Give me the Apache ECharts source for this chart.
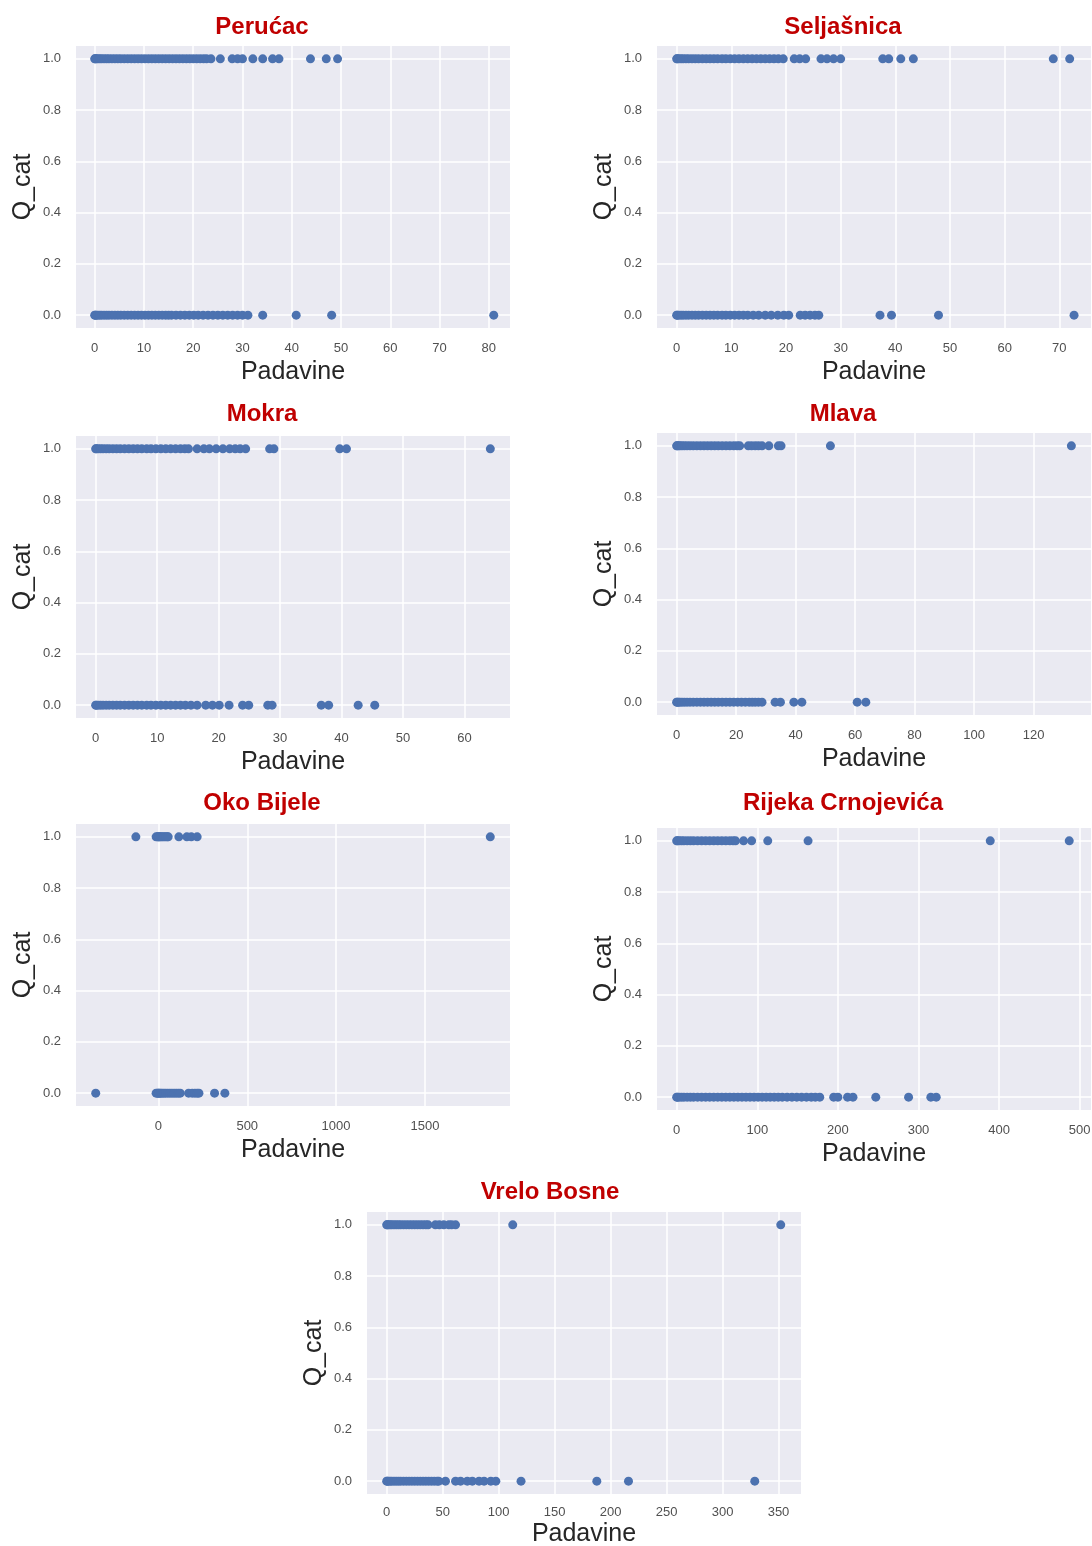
<!DOCTYPE html>
<html><head><meta charset="utf-8">
<script src="https://cdn.jsdelivr.net/npm/echarts@6/dist/echarts.min.js"></script>
<style>html,body{margin:0;padding:0;background:#fff}#c{width:1092px;height:1546px}</style>
</head><body><div id="c"></div>
<script>
// ---------- DATA (Padavine values, split by Q_cat = 1 / Q_cat = 0) ----------
const stationNames = ['Perućac', 'Seljašnica', 'Mokra', 'Mlava', 'Oko Bijele', 'Rijeka Crnojevića', 'Vrelo Bosne'];

const perucacQ1 = [0,0.1,0.3,0.6,1,1.4,1.9,2.4,2.9,3.5,4.1,4.7,5.3,6,6.7,7.4,8.1,8.8,9.5,10.2,10.9,11.6,12.3,13,13.7,14.4,15.1,15.8,16.5,17.2,17.9,18.6,19.3,20,20.7,21.4,22.1,22.7,23.6,25.5,27.9,29.0,30.0,32.1,34.1,36.1,37.4,43.8,47.0,49.3];
const perucacQ0 = [0,0.1,0.3,0.6,1,1.4,1.9,2.4,2.9,3.5,4.1,4.7,5.3,6,6.7,7.4,8.1,8.8,9.5,10.2,10.9,11.6,12.3,13,13.7,14.4,15,15.6,16.5,17.4,18.3,19.2,20.1,21,22,23,24,25,26,27,28,29,30,31.1,34.1,40.9,48.1,81.0];

const seljasnicaQ1 = [0,0.1,0.4,0.8,1.2,1.7,2.2,2.8,3.4,4,4.7,5.4,6.1,6.8,7.5,8.3,9,9.8,10.6,11.4,12.2,13,13.8,14.6,15.4,16.2,17,17.8,18.6,19.5,21.5,22.5,23.6,26.4,27.5,28.7,30.0,37.7,38.8,41.0,43.3,68.9,71.9];
const seljasnicaQ0 = [0,0.1,0.4,0.8,1.2,1.7,2.2,2.8,3.4,4,4.7,5.4,6.1,6.8,7.5,8.3,9,9.8,10.6,11.4,12.2,13,14,15,16.2,17.3,18.5,19.6,20.5,22.6,23.5,24.4,25.3,26.0,37.2,39.3,47.9,72.7];

const mokraQ1 = [0,0.1,0.4,0.8,1.2,1.7,2.2,2.8,3.4,4,4.7,5.4,6.1,6.8,7.5,8.3,9,9.8,10.6,11.4,12.2,13,13.8,14.5,15.1,16.5,17.6,18.5,19.6,20.7,21.8,22.7,23.5,24.4,28.3,29.0,39.7,40.8,64.2];
const mokraQ0 = [0,0.1,0.4,0.8,1.2,1.7,2.2,2.8,3.4,4,4.7,5.4,6.1,6.8,7.5,8.3,9,9.8,10.6,11.4,12.2,13,13.8,14.6,15.5,16.5,17.9,19.0,20.1,21.7,23.9,24.9,28.0,28.7,36.7,37.9,42.7,45.4];

const mlavaQ1 = [0,0.2,0.6,1.1,1.8,2.6,3.5,4.5,5.6,6.8,8,9.2,10.4,11.6,12.8,14,15.3,16.6,17.9,19.2,20.3,21.2,24.1,25.2,26.4,27.5,28.7,31.0,34.2,35.1,51.7,132.7];
const mlavaQ0 = [0,0.2,0.6,1.1,1.8,2.6,3.5,4.5,5.6,6.8,8,9.2,10.4,11.6,12.8,14,15.3,16.6,17.9,19.2,20.5,21.8,23.1,24.4,25.4,26.4,27.5,28.7,33.1,34.9,39.4,42.1,60.7,63.6];

const okoBijeleQ1 = [-127,-13,-5,0,4,10,17,25,33,42,50,55,115,160,185,218,1868];
const okoBijeleQ0 = [-353,-13,-5,0,5,12,20,30,40,52,64,76,88,100,112,123,170,190,205,218,228,316,374];

const rijekaQ1 = [0,1,3,6,9,13,17,21,26,31,36,41,46,51,56,61,66,70,73,83,93,113,163,389,487];
const rijekaQ0 = [0,1,3,6,9,13,17,21,26,31,36,41,46,51,56,61,66,71,76,81,86,91,96,101,106,111,116,121,126,131,137,143,149,155,161,167,172,177.5,194.8,200,212,218.7,247,287.7,315.3,322];

const vreloBosneQ1 = [0,0.5,1.5,3,4.5,6.5,8.5,10.5,12.5,15,17.5,20,22.5,25,27.5,30,32.5,35,37,43.5,47,51,55.5,58,61.5,112.6,352];
const vreloBosneQ0 = [0,0.5,1.5,3,4.5,6.5,8.5,10.5,12.5,15,17.5,20,22.5,25,27.5,30,32.5,35,37.5,40,42.5,45,46.5,52.5,61.5,66,72,76.5,82.5,87,93,97.5,120,187.7,216,328.8];

// tick labels
const perucacTicks = [0,10,20,30,40,50,60,70,80];
const seljasnicaTicks = [0,10,20,30,40,50,60,70];
const mokraTicks = [0,10,20,30,40,50,60];
const mlavaTicks = [0,20,40,60,80,100,120];
const okoBijeleTicks = [0,500,1000,1500];
const rijekaTicks = [0,100,200,300,400,500];
const vreloBosneTicks = [0,50,100,150,200,250,300,350];
const qTicks = [0,0.2,0.4,0.6,0.8,1.0];

// ---------- LAYOUT ----------
const panels = [
  {name: stationNames[0], q1: perucacQ1,    q0: perucacQ0,    ticks: perucacTicks,    xr: [-3.8, 84.3],   g: [76, 46],   t: [262, 28],   ng: 32, lm: 14},
  {name: stationNames[1], q1: seljasnicaQ1, q0: seljasnicaQ0, ticks: seljasnicaTicks, xr: [-3.6, 75.8],   g: [657, 46],  t: [843, 28],   ng: 32, lm: 14},
  {name: stationNames[2], q1: mokraQ1,      q0: mokraQ0,      ticks: mokraTicks,      xr: [-3.2, 67.4],   g: [76, 436],  t: [262, 415],  ng: 32, lm: 14},
  {name: stationNames[3], q1: mlavaQ1,      q0: mlavaQ0,      ticks: mlavaTicks,      xr: [-6.6, 139.3],  g: [657, 433], t: [843, 415],  ng: 32, lm: 14},
  {name: stationNames[4], q1: okoBijeleQ1,  q0: okoBijeleQ0,  ticks: okoBijeleTicks,  xr: [-464, 1979],   g: [76, 824],  t: [262, 804],  ng: 32, lm: 14},
  {name: stationNames[5], q1: rijekaQ1,     q0: rijekaQ0,     ticks: rijekaTicks,     xr: [-24.4, 514],   g: [657, 828], t: [843, 804],  ng: 32, lm: 14},
  {name: stationNames[6], q1: vreloBosneQ1, q0: vreloBosneQ0, ticks: vreloBosneTicks, xr: [-17.6, 370.1], g: [367, 1212],t: [550, 1193], ng: 28, lm: 12}
];
const PW = 434, PH = 282;
const FONT = '"Liberation Sans", Arial, sans-serif';
const DOT = '#4C72B0';

const option = {
  backgroundColor: '#ffffff',
  animation: false,
  title: [], grid: [], xAxis: [], yAxis: [], series: []
};

panels.forEach((p, i) => {
  option.title.push({
    text: p.name, left: p.t[0], top: p.t[1] - 13, textAlign: 'center', padding: 0,
    textStyle: {fontFamily: FONT, fontWeight: 'bold', fontSize: 24, color: '#C00000'}
  });
  option.grid.push({
    left: p.g[0], top: p.g[1], width: PW, height: PH, containLabel: false,
    outerBoundsMode: 'none',
    show: true, backgroundColor: '#EAEAF2', borderWidth: 0
  });
  option.xAxis.push({
    type: 'value', gridIndex: i, min: p.xr[0], max: p.xr[1],
    name: 'Padavine', nameLocation: 'middle', nameGap: p.ng,
    nameTextStyle: {fontFamily: FONT, fontSize: 25, color: '#262626'},
    axisLine: {show: false}, axisTick: {show: false, customValues: p.ticks},
    axisLabel: {customValues: p.ticks, margin: p.lm, fontFamily: FONT, fontSize: 13, color: '#505050',
      formatter: v => String(Math.round(v))},
    splitLine: {show: true, lineStyle: {color: '#ffffff', width: 1.5}}
  });
  option.yAxis.push({
    type: 'value', gridIndex: i, min: -0.05, max: 1.05,
    name: 'Q_cat', nameLocation: 'middle', nameGap: 40,
    nameTextStyle: {fontFamily: FONT, fontSize: 25, color: '#262626'},
    axisLine: {show: false}, axisTick: {show: false, customValues: qTicks},
    axisLabel: {customValues: qTicks, margin: 15, fontFamily: FONT, fontSize: 13, color: '#505050',
      formatter: v => v.toFixed(1)},
    splitLine: {show: true, lineStyle: {color: '#ffffff', width: 1.5}}
  });
  option.series.push({
    type: 'scatter', xAxisIndex: i, yAxisIndex: i, symbolSize: 9,
    itemStyle: {color: DOT, opacity: 1},
    data: p.q1.map(x => [x, 1]).concat(p.q0.map(x => [x, 0]))
  });
});

const chart = echarts.init(document.getElementById('c'), null, {renderer: 'canvas'});
chart.setOption(option);
</script>
</body></html>
